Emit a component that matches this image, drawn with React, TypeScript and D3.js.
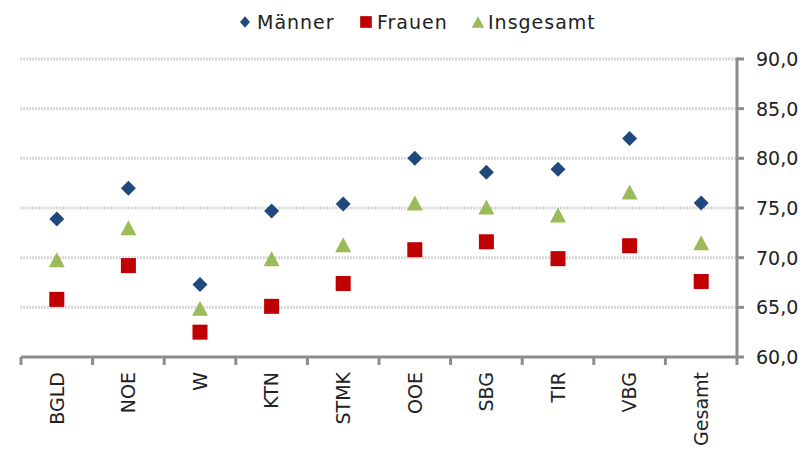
import React from "react";
import * as d3 from "d3";

const categories = ["BGLD", "NOE", "W", "KTN", "STMK", "OOE", "SBG", "TIR", "VBG", "Gesamt"];
const maenner = [73.9, 77.0, 67.3, 74.7, 75.4, 80.0, 78.6, 78.9, 82.0, 75.5];
const frauen = [65.8, 69.2, 62.5, 65.1, 67.4, 70.8, 71.6, 69.9, 71.2, 67.6];
const insgesamt = [69.8, 73.0, 64.9, 69.9, 71.3, 75.5, 75.1, 74.3, 76.6, 71.5];
const yTicks = [60, 65, 70, 75, 80, 85, 90];
const seriesNames = ["Männer", "Frauen", "Insgesamt"];

const W = 802, H = 458;
const FONT = "DejaVu Sans";
const colors = ["#1f497d", "#c00000", "#9bbb59"];

function Marker({ kind, cx, cy, scale = 1 }: { kind: number; cx: number; cy: number; scale?: number }) {
  if (kind === 0) {
    const r = 7.5 * scale;
    const p = d3.path();
    p.moveTo(cx, cy - r); p.lineTo(cx + r * (scale < 1 ? 0.85 : 1), cy); p.lineTo(cx, cy + r); p.lineTo(cx - r * (scale < 1 ? 0.85 : 1), cy); p.closePath();
    return <path d={p.toString()} fill={colors[0]} />;
  }
  if (kind === 1) {
    const s = 15 * scale;
    return <rect x={cx - s / 2} y={cy - s / 2} width={s} height={s} fill={colors[1]} />;
  }
  const w = 16 * scale, h = 15 * scale;
  const p = d3.path();
  p.moveTo(cx, cy - h / 2); p.lineTo(cx + w / 2, cy + h / 2); p.lineTo(cx - w / 2, cy + h / 2); p.closePath();
  return <path d={p.toString()} fill={colors[2]} />;
}

export default function App() {
  const x = d3.scaleBand<string>().domain(categories).range([21, 737]).padding(0);
  const y = d3.scaleLinear().domain([60, 90]).range([357, 59]);
  const fmt = (v: number) => d3.format(".1f")(v).replace(".", ",");
  const series = [maenner, frauen, insgesamt];
  const axisColor = "#8c8c8c";
  const legendPos = [
    { m: 245, t: 257 },
    { m: 366, t: 377 },
    { m: 478, t: 488 },
  ];
  const bounds = [...categories.map((c) => x(c)!), 737];

  return (
    <svg width={W} height={H} style={{ position: "absolute", left: 0, top: 0, background: "#fff" }}>
      {/* gridlines */}
      {yTicks.filter((t) => t > 60).map((t) => (
        <line key={t} x1={20} x2={737} y1={y(t)} y2={y(t)} stroke="#d9d9d9" strokeWidth={3} strokeDasharray="2,1" />
      ))}
      {/* y axis */}
      <line x1={737} x2={737} y1={y(90) - 1.5} y2={y(60) + 1.5} stroke={axisColor} strokeWidth={3} />
      {yTicks.map((t) => (
        <g key={t}>
          <line x1={737} x2={744} y1={y(t)} y2={y(t)} stroke={axisColor} strokeWidth={3} />
          <text x={756} y={y(t)} dy="0.36em" fontFamily={FONT} fontSize={19} fill="#222">{fmt(t)}</text>
        </g>
      ))}
      {/* x axis */}
      <line x1={21} x2={737} y1={357} y2={357} stroke={axisColor} strokeWidth={3} />
      {bounds.map((b, i) => (
        <line key={i} x1={b} x2={b} y1={357} y2={365} stroke={axisColor} strokeWidth={3} />
      ))}
      {categories.map((c) => {
        const cx = x(c)! + x.bandwidth() / 2;
        return (
          <text key={c} transform={`translate(${cx},372) rotate(-90)`} textAnchor="end" dy="0.36em" fontFamily={FONT} fontSize={19} fill="#222">{c}</text>
        );
      })}
      {/* markers */}
      {[2, 1, 0].map((si) =>
        categories.map((c, i) => (
          <Marker key={`${si}-${c}`} kind={si} cx={x(c)! + x.bandwidth() / 2} cy={y(series[si][i])} />
        ))
      )}
      {/* legend */}
      {seriesNames.map((n, i) => (
        <g key={n}>
          <Marker kind={i} cx={legendPos[i].m} cy={22} scale={0.78} />
          <text x={legendPos[i].t} y={22} dy="0.36em" fontFamily={FONT} fontSize={19} letterSpacing={1} fill="#222">{n}</text>
        </g>
      ))}
    </svg>
  );
}
